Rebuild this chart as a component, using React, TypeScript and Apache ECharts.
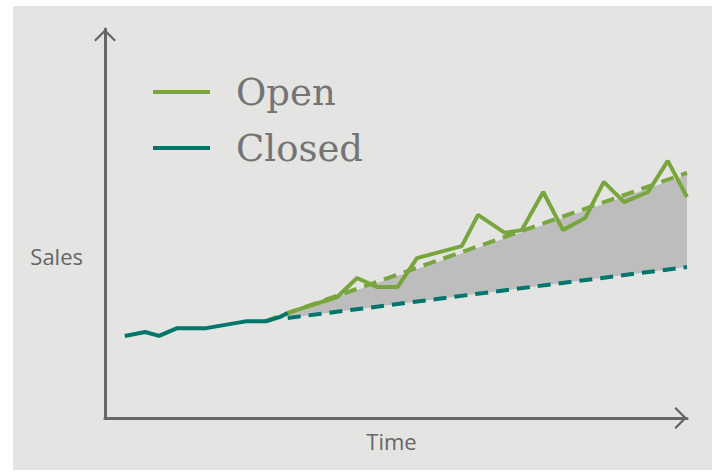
import React, { useEffect, useRef } from "react";
import * as echarts from "echarts";

// Time positions (0..100 along the time axis) and sales values (0..100)
const closedTime = [3.4, 6.9, 9.3, 12.4, 17.4, 24.4, 27.8, 30.1, 31.4];
const closedSales = [21.1, 22.1, 21.1, 23.1, 23.1, 24.9, 24.9, 26.0, 27.0];

const openTime = [31.4, 39.9, 43.3, 46.7, 50.3, 53.6, 61.3, 64.1, 68.7, 71.6, 75.3, 78.7, 82.5, 85.7, 89.2, 93.3, 96.7, 100];
const openSales = [27.0, 31.1, 36.0, 33.7, 33.7, 41.1, 44.2, 52.2, 47.6, 48.3, 58.1, 48.3, 51.4, 60.7, 55.5, 58.1, 66.1, 56.8];

const openTrendTime = [27.5, 100];
const openTrendSales = [24.9, 63.0];
const closedTrendTime = [31.4, 100];
const closedTrendSales = [25.7, 38.8];

const bandTime = [31.4, 100];
const bandLow = [25.7, 38.8];
const bandHigh = [26.7, 62.5];

const seriesNames = ["Open", "Closed"];
const axisNames = { x: "Time", y: "Sales" };

const GREEN = "#79a53d";
const TEAL = "#00766c";
const AXIS = "#666666";
const CHEVRON = "path://M11 0 L22 11 L20.4 12.6 L11 3.2 L1.6 12.6 L0 11 Z";

const pairs = (xs: number[], ys: number[]) => xs.map((x, i) => [x, ys[i]]);

export default function App() {
  const ref = useRef<HTMLDivElement>(null);
  useEffect(() => {
    if (!ref.current) return;
    const chart = echarts.init(ref.current, undefined, { renderer: "svg" });
    const axisLine = {
      show: true,
      symbol: ["none", CHEVRON],
      symbolSize: [22, 12.6],
      symbolOffset: [0, -6.3],
      lineStyle: { color: AXIS, width: 3 },
    };
    chart.setOption({
      animation: false,
      backgroundColor: "#ffffff",
      graphic: [
        {
          type: "rect",
          z: -10,
          shape: { x: 13, y: 6, width: 699, height: 464 },
          style: { fill: "#e4e4e2" },
          silent: true,
        },
      ],
      grid: { left: 105, right: 28, top: 29, bottom: 54 },
      legend: {
        data: seriesNames,
        orient: "vertical",
        left: 153,
        top: 72,
        padding: 0,
        icon: "rect",
        itemWidth: 57,
        itemHeight: 4,
        itemGap: 16,
        selectedMode: false,
        textStyle: {
          fontFamily: "DejaVu Serif",
          fontSize: 37,
          color: "#747474",
          lineHeight: 40,
          padding: [0, 0, 0, 21],
        },
      },
      xAxis: {
        type: "value",
        min: 0,
        max: 100,
        name: axisNames.x,
        nameLocation: "middle",
        nameGap: 12,
        nameTextStyle: {
          fontFamily: "Open Sans",
          fontSize: 22,
          color: AXIS,
          verticalAlign: "top",
          padding: [0, 9, 0, 0],
        },
        axisLine,
        axisTick: { show: false },
        axisLabel: { show: false },
        splitLine: { show: false },
      },
      yAxis: {
        type: "value",
        min: 0,
        max: 100,
        name: axisNames.y,
        nameLocation: "middle",
        nameRotate: 0,
        nameGap: 22,
        nameTextStyle: {
          fontFamily: "Open Sans",
          fontSize: 22,
          color: AXIS,
          verticalAlign: "top",
          lineHeight: 64,
        },
        axisLine,
        axisTick: { show: false },
        axisLabel: { show: false },
        splitLine: { show: false },
      },
      series: [
        {
          name: "band",
          type: "custom",
          data: bandTime.map((t, i) => [t, bandLow[i], bandHigh[i]]),
          silent: true,
          z: 1,
          renderItem: (params: any, api: any) => {
            if (params.dataIndex !== 0) return null;
            const upper = bandTime.map((t, i) => api.coord([t, bandHigh[i]]));
            const lower = bandTime.map((t, i) => api.coord([t, bandLow[i]])).reverse();
            return {
              type: "polygon",
              shape: { points: upper.concat(lower) },
              style: { fill: "#bdbdbd" },
            };
          },
        },
        {
          name: "closedTrend",
          type: "line",
          data: pairs(closedTrendTime, closedTrendSales),
          symbol: "none",
          lineStyle: { color: TEAL, width: 4, type: [13, 8] },
          z: 2,
        },
        {
          name: "openTrend",
          type: "line",
          data: pairs(openTrendTime, openTrendSales),
          symbol: "none",
          lineStyle: { color: GREEN, width: 4, type: [13, 8] },
          z: 2,
        },
        {
          name: "Open",
          type: "line",
          data: pairs(openTime, openSales),
          symbol: "none",
          itemStyle: { color: GREEN },
          lineStyle: { color: GREEN, width: 4 },
          z: 3,
        },
        {
          name: "Closed",
          type: "line",
          data: pairs(closedTime, closedSales),
          symbol: "none",
          itemStyle: { color: TEAL },
          lineStyle: { color: TEAL, width: 4 },
          z: 4,
        },
      ],
    });
    return () => chart.dispose();
  }, []);
  return (
    <div
      ref={ref}
      style={{ position: "fixed", left: 0, top: 0, width: 715, height: 472 }}
    />
  );
}
